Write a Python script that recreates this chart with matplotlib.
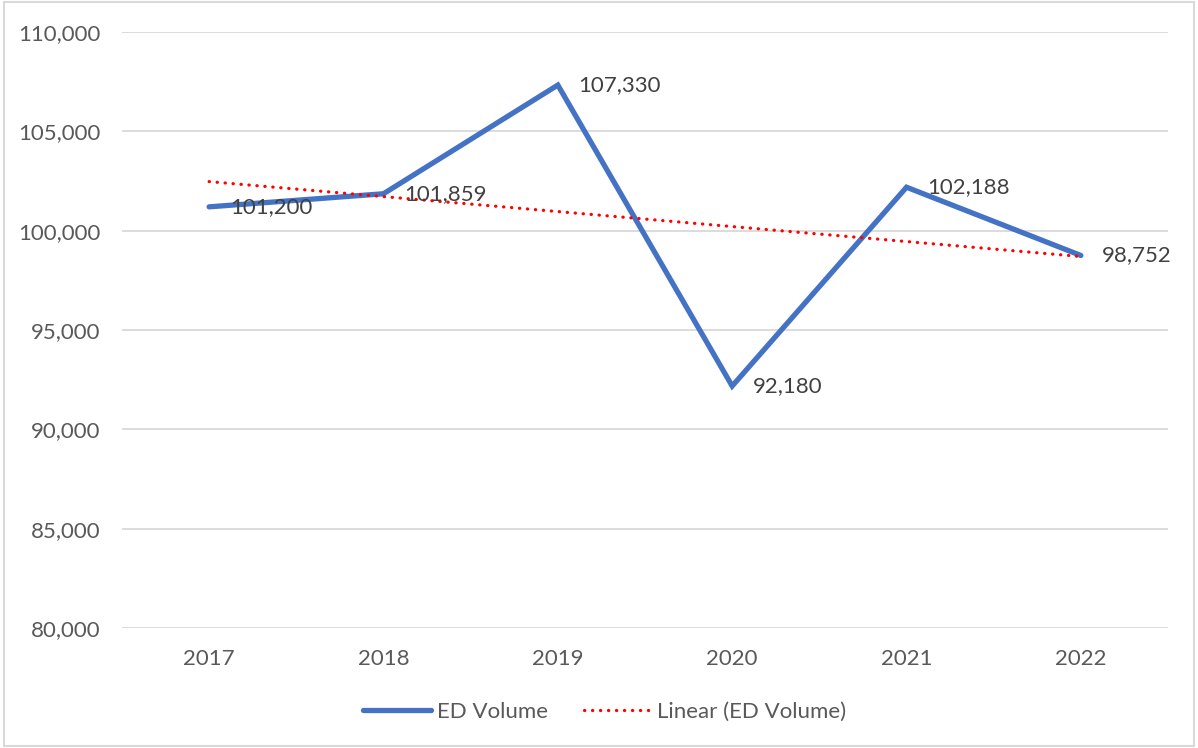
import numpy as np
import matplotlib
matplotlib.use("Agg")
import matplotlib.pyplot as plt
from matplotlib import ticker
from matplotlib.patches import Rectangle

years = ["2017", "2018", "2019", "2020", "2021", "2022"]
ed_volume = [101200, 101859, 107330, 92180, 102188, 98752]

plt.rcParams['font.family'] = ['Lato', 'DejaVu Sans']
text_color = "#595959"

fig = plt.figure(figsize=(11.98, 7.48), dpi=100)
ax = fig.add_axes([0.1018, 0.1604, 0.8732, 0.7968])

x = np.arange(len(years))
ax.plot(x, ed_volume, color="#4472C4", lw=3.8, solid_capstyle="round",
        solid_joinstyle="miter", label="ED Volume", zorder=3)

# linear trendline, like Excel's
slope, intercept = np.polyfit(x, ed_volume, 1)
ax.plot(x, slope * x + intercept, color="#FF0000", lw=2.3, linestyle=(0, (0.1, 2.4)),
        dash_capstyle="round", label="Linear (ED Volume)", zorder=4)

for xi, v in zip(x, ed_volume):
    ax.annotate("{:,}".format(v), (xi, v), xytext=(15, 0), textcoords="offset points",
                ha="left", va="center", fontsize=16, color="#404040", zorder=5)

ax.set_xlim(-0.5, len(years) - 0.5)
ax.set_ylim(80000, 110000)
ax.set_xticks(x)
ax.set_xticklabels(years)
ax.yaxis.set_major_locator(ticker.MultipleLocator(5000))
ax.yaxis.set_major_formatter(ticker.FuncFormatter(lambda v, p: "{:,}".format(int(v))))
ax.tick_params(axis="both", length=0, labelsize=16, colors=text_color)
ax.tick_params(axis="y", pad=15.5)
ax.tick_params(axis="x", pad=15)
ax.grid(axis="y", color="#D9D9D9", lw=1.3)
ax.set_axisbelow(True)
for s in ax.spines.values():
    s.set_visible(False)

leg = fig.legend(loc="center", bbox_to_anchor=(0.505, 0.048), ncol=2, frameon=False,
                 fontsize=16, handlelength=3.05, handletextpad=0.27, columnspacing=1.6)
for t in leg.get_texts():
    t.set_color(text_color)

fig.patches.append(Rectangle((0.003, 0.003), 0.994, 0.994, transform=fig.transFigure,
                             fill=False, edgecolor="#D9D9D9", lw=1.5))

fig.savefig("out.png", dpi=100)
